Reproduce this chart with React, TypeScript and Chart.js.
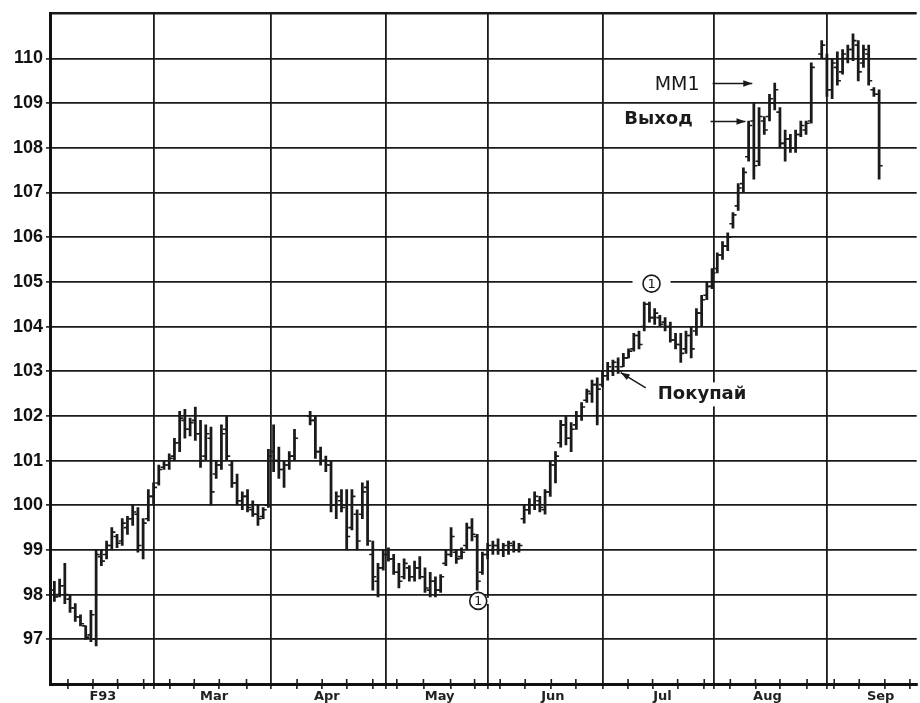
import React, { useEffect, useRef } from "react";
import { Chart, registerables } from "chart.js";

Chart.register(...registerables);

// Daily bars, Feb 1993 -> Sep 1993 (index = trading day)
const highs: (number | null)[] = [
  // Feb
  98.3, 98.35, 98.7, 98.0, 97.8, 97.55, 97.3, 97.65, 99.0, 99.0, 99.2, 99.5, 99.35, 99.7, 99.75, 100.0, 99.95, 99.7, 100.35,
  // Mar
  100.5, 100.9, 101.0, 101.15, 101.5, 102.1, 102.15, 101.95, 102.2, 101.9, 101.8, 101.75, 101.0, 101.8, 102.0, 101.0, 100.7, 100.3, 100.35, 100.1, 100.0, 99.95, 101.25,
  // Apr
  101.8, 101.3, 101.0, 101.2, 101.7, null, null, 102.1, 102.0, 101.3, 101.1, 101.0, 100.3, 100.35, 100.35, 100.35, 99.9, 100.5, 100.55, 99.2, 98.7,
  // May
  99.0, 99.05, 98.9, 98.7, 98.8, 98.65, 98.75, 98.85, 98.6, 98.5, 98.4, 98.45, 99.0, 99.5, 99.0, 99.05, 99.6, 99.7, 99.35, 98.95,
  // Jun
  99.15, 99.2, 99.25, 99.15, 99.2, 99.2, 99.15, 100.0, 100.15, 100.3, 100.2, 100.35, 101.0, 101.2, 101.9, 102.0, 101.85, 102.1, 102.3, 102.6, 102.8, 102.85,
  // Jul
  103.0, 103.2, 103.25, 103.3, 103.4, 103.5, 103.85, 103.9, 104.55, 104.55, 104.4, 104.25, 104.2, 104.1, 103.85, 103.85, 103.9, 104.0, 104.4, 104.7, 105.0,
  // Aug
  105.3, 105.65, 105.9, 106.1, 106.55, 107.2, 107.55, 108.6, 109.0, 108.9, 108.7, 109.2, 109.45, 108.9, 108.4, 108.3, 108.4, 108.6, 108.6, 109.9, null, 110.4,
  // Sep
  110.1, 110.0, 110.15, 110.2, 110.3, 110.55, 110.4, 110.3, 110.3, 109.35, 109.3,
];

const lows: (number | null)[] = [
  97.85, 97.95, 97.8, 97.6, 97.4, 97.3, 97.0, 96.95, 96.85, 98.65, 98.8, 99.0, 99.05, 99.1, 99.35, 99.55, 98.95, 98.8, 99.65,
  100.0, 100.45, 100.8, 100.8, 101.0, 101.2, 101.5, 101.55, 101.45, 100.85, 101.0, 100.0, 100.6, 100.8, 101.0, 100.4, 100.0, 99.9, 99.85, 99.75, 99.55, 99.7, 99.95,
  100.75, 100.6, 100.4, 100.8, 101.0, null, null, 101.8, 101.05, 100.9, 100.75, 99.85, 99.7, 99.85, 99.0, 99.45, 99.0, 99.7, 99.1, 98.1, 97.95,
  98.55, 98.75, 98.45, 98.15, 98.35, 98.3, 98.3, 98.35, 98.05, 97.95, 97.95, 98.05, 98.65, 98.85, 98.7, 98.8, 99.0, 99.2, 98.1, 98.45,
  98.8, 98.9, 98.9, 98.85, 98.9, 98.95, 98.95, 99.6, 99.8, 99.9, 99.85, 99.8, 100.2, 100.5, 101.3, 101.35, 101.2, 101.7, 101.9, 102.3, 102.3, 101.8,
  102.65, 102.8, 102.9, 102.95, 103.1, 103.3, 103.45, 103.5, 103.9, 104.1, 104.05, 104.0, 103.9, 103.65, 103.5, 103.2, 103.4, 103.3, 103.8, 104.0, 104.6,
  104.85, 105.2, 105.5, 105.7, 106.2, 106.6, 107.0, 107.7, 107.3, 107.6, 108.3, 108.6, 108.85, 108.0, 107.7, 107.9, 107.9, 108.25, 108.3, 108.55, null, 110.0,
  109.15, 109.1, 109.4, 109.65, 109.9, 109.95, 109.5, 109.8, 109.4, 109.15, 107.3,
];

const opens: (number | null)[] = [
  98.1, 98.0, 98.2, 97.9, 97.7, 97.5, 97.3, 97.1, 97.0, 98.85, 98.9, 99.1, 99.3, 99.2, 99.5, 99.7, 99.8, 99.0, 99.7,
  100.2, 100.5, 100.85, 100.9, 101.1, 101.4, 101.9, 101.7, 101.9, 101.6, 101.1, 101.5, 100.7, 100.9, 101.7, 100.9, 100.5, 100.1, 100.2, 99.9, 99.8, 99.75, 100.0,
  101.2, 101.0, 100.8, 100.9, 101.1, null, null, 102.0, 101.9, 101.2, 101.0, 100.9, 100.0, 100.1, 100.0, 99.5, 99.8, 99.8, 100.4, 98.9, 98.3,
  98.6, 98.9, 98.8, 98.5, 98.4, 98.6, 98.4, 98.6, 98.4, 98.1, 98.3, 98.1, 98.7, 98.9, 98.95, 98.85, 99.1, 99.5, 99.3, 98.5,
  98.9, 99.0, 99.1, 99.0, 99.0, 99.1, 99.0, 99.7, 99.9, 100.0, 100.1, 99.9, 100.3, 100.9, 101.4, 101.8, 101.5, 101.8, 102.0, 102.35, 102.5, 102.7,
  102.7, 102.9, 103.0, 103.1, 103.1, 103.3, 103.5, 103.8, 104.0, 104.5, 104.2, 104.2, 104.1, 104.0, 103.7, 103.6, 103.5, 103.8, 103.9, 104.3, 104.7,
  104.9, 105.3, 105.6, 105.8, 106.3, 106.7, 107.2, 107.8, 108.6, 107.7, 108.6, 108.7, 109.0, 108.8, 108.1, 108.2, 108.0, 108.3, 108.4, 108.6, null, 110.1,
  110.0, 109.3, 109.8, 109.7, 110.0, 110.2, 110.3, 109.9, 110.1, 109.3, 109.2,
];

const closes: (number | null)[] = [
  97.95, 98.2, 98.0, 97.7, 97.5, 97.35, 97.05, 97.55, 98.9, 98.75, 99.1, 99.4, 99.15, 99.6, 99.7, 99.85, 99.1, 99.6, 100.2,
  100.4, 100.8, 100.9, 101.05, 101.4, 101.95, 101.7, 101.85, 101.6, 101.0, 101.6, 100.3, 100.9, 101.6, 101.1, 100.5, 100.1, 100.2, 99.95, 99.8, 99.7, 99.9, 101.1,
  101.0, 100.8, 100.9, 101.1, 101.5, null, null, 101.9, 101.2, 101.0, 100.9, 100.0, 100.2, 99.95, 99.3, 100.2, 99.2, 100.3, 99.2, 98.4, 98.6,
  98.9, 98.8, 98.5, 98.3, 98.7, 98.4, 98.6, 98.4, 98.15, 98.3, 98.1, 98.4, 98.9, 99.3, 98.8, 98.95, 99.5, 99.35, 98.3, 98.9,
  99.1, 99.1, 99.0, 99.1, 99.15, 99.0, 99.1, 99.9, 100.0, 100.2, 99.95, 100.3, 100.9, 101.1, 101.8, 101.5, 101.7, 102.0, 102.2, 102.55, 102.7, 102.6,
  102.9, 103.1, 103.2, 103.0, 103.3, 103.45, 103.8, 103.6, 104.5, 104.2, 104.3, 104.05, 104.0, 103.7, 103.6, 103.4, 103.8, 103.5, 104.3, 104.6, 104.9,
  105.2, 105.6, 105.8, 106.0, 106.5, 107.1, 107.45, 108.5, 107.6, 108.7, 108.4, 109.1, 109.3, 108.1, 108.2, 108.0, 108.3, 108.5, 108.55, 109.8, null, 110.3,
  109.3, 109.9, 109.5, 110.1, 110.2, 110.4, 109.7, 110.2, 109.5, 109.2, 107.6,
];

// Axis layout (in trading-day units)
const X_MIN = -0.84;
const X_MAX = 165.2;
const monthLines = [19.0, 41.5, 63.5, 83.1, 105.1, 126.4, 148.0];
const monthLabelPos = [9.3, 30.6, 52.2, 73.8, 95.5, 116.5, 136.6, 158.3];
const monthLabels = ["F93", "Mar", "Apr", "May", "Jun", "Jul", "Aug", "Sep"];
const weekTicks = [
  2.6, 7.4, 12.1, 17.1, 22.1, 26.8, 31.6, 36.8, 46.5, 51.3, 56.0, 61.0, 65.6, 70.7, 75.9, 80.5,
  85.4, 90.2, 95.2, 99.9, 109.9, 114.6, 119.4, 124.5, 129.5, 134.3, 139.0, 144.2, 149.4, 154.2, 159.1, 163.9,
];
const Y_MIN = 96;
const Y_MAX = 111;

// Annotations (data coordinates: [day, price])
const circleMarks: [number, number][] = [
  [81.2, 97.86],
  [114.4, 104.96],
];
const mm1Text: [number, number] = [123.6, 109.29];
const mm1Arrow: [number, number, number] = [126.1, 133.7, 109.44];
const exitText: [number, number] = [122.3, 108.53];
const exitArrow: [number, number, number] = [125.7, 132.4, 108.59];
const buyText: [number, number] = [115.6, 102.37];
const buyPointer: [number, number, number, number] = [113.3, 102.63, 108.5, 102.97];

const INK = "#1a1a1a";
const near = (arr: number[], v: number) => arr.some((a) => Math.abs(a - v) < 1e-6);

const barData: { x: number; y: [number, number] }[] = [];
const openData: { x: number; y: number }[] = [];
const closeData: { x: number; y: number }[] = [];
highs.forEach((h, i) => {
  const l = lows[i];
  if (h == null || l == null) return;
  barData.push({ x: i, y: [l, h] });
  const o = opens[i];
  const c = closes[i];
  if (o != null) openData.push({ x: i - 0.36, y: o });
  if (c != null) closeData.push({ x: i + 0.36, y: c });
});

const xTickValues = [...monthLines, ...monthLabelPos, ...weekTicks].sort((a, b) => a - b);

function arrow(ctx: CanvasRenderingContext2D, x1: number, y1: number, x2: number, y2: number, head: boolean) {
  ctx.beginPath();
  ctx.moveTo(x1, y1);
  ctx.lineTo(x2, y2);
  ctx.stroke();
  if (head) {
    const ang = Math.atan2(y2 - y1, x2 - x1);
    const len = 9;
    const w = 3.2;
    ctx.beginPath();
    ctx.moveTo(x2, y2);
    ctx.lineTo(x2 - len * Math.cos(ang) + w * Math.sin(ang), y2 - len * Math.sin(ang) - w * Math.cos(ang));
    ctx.lineTo(x2 - len * Math.cos(ang) - w * Math.sin(ang), y2 - len * Math.sin(ang) + w * Math.cos(ang));
    ctx.closePath();
    ctx.fill();
  }
}

const notesPlugin = {
  id: "notes",
  afterDatasetsDraw(chart: any) {
    const ctx: CanvasRenderingContext2D = chart.ctx;
    const xs = chart.scales.x;
    const ys = chart.scales.y;
    const px = (v: number) => xs.getPixelForValue(v);
    const py = (v: number) => ys.getPixelForValue(v);
    ctx.save();
    ctx.strokeStyle = INK;
    ctx.fillStyle = INK;
    ctx.lineWidth = 1.5;

    // weekly tick marks crossing the bottom axis (upper half)
    const bottom = chart.chartArea.bottom;
    ctx.lineWidth = 1.6;
    weekTicks.forEach((v) => {
      const x = px(v);
      ctx.beginPath();
      ctx.moveTo(x, bottom - 5);
      ctx.lineTo(x, bottom);
      ctx.stroke();
    });

    // circled "1" markers
    circleMarks.forEach(([i, p]) => {
      const cx = px(i);
      const cy = py(p);
      ctx.fillStyle = "#fff";
      ctx.fillRect(cx - 19, cy - 3, 38, 6);
      ctx.beginPath();
      ctx.arc(cx, cy, 8.5, 0, Math.PI * 2);
      ctx.fill();
      ctx.strokeStyle = INK;
      ctx.lineWidth = 1.6;
      ctx.stroke();
      ctx.fillStyle = INK;
      ctx.font = '13px "DejaVu Sans"';
      ctx.textAlign = "center";
      ctx.textBaseline = "middle";
      ctx.fillText("1", cx, cy + 0.5);
    });

    ctx.textBaseline = "alphabetic";
    // MM1
    ctx.font = '19px "DejaVu Sans"';
    ctx.textAlign = "right";
    ctx.fillText("MM1", px(mm1Text[0]), py(mm1Text[1]));
    ctx.lineWidth = 1.6;
    arrow(ctx, px(mm1Arrow[0]), py(mm1Arrow[2]), px(mm1Arrow[1]), py(mm1Arrow[2]), true);

    // Выход
    ctx.font = 'bold 18px "DejaVu Sans"';
    ctx.textAlign = "right";
    ctx.fillText("Выход", px(exitText[0]), py(exitText[1]));
    arrow(ctx, px(exitArrow[0]), py(exitArrow[2]), px(exitArrow[1]), py(exitArrow[2]), true);

    // Покупай
    ctx.font = 'bold 18px "DejaVu Sans"';
    ctx.textAlign = "left";
    const bx = px(buyText[0]);
    const by = py(buyText[1]);
    const w = ctx.measureText("Покупай").width;
    ctx.fillStyle = "#fff";
    ctx.fillRect(bx - 3, by - 17, w + 6, 24);
    ctx.fillStyle = INK;
    ctx.fillText("Покупай", bx, by);
    ctx.lineWidth = 1.5;
    arrow(ctx, px(buyPointer[0]), py(buyPointer[1]), px(buyPointer[2]), py(buyPointer[3]), true);

    ctx.restore();
  },
};

export default function App() {
  const ref = useRef<HTMLCanvasElement>(null);
  useEffect(() => {
    document.body.style.margin = "0";
    const canvas = ref.current;
    if (!canvas) return;
    const chart = new Chart(canvas, {
      type: "bar",
      data: {
        datasets: [
          {
            type: "bar",
            data: barData as any,
            backgroundColor: INK,
            borderWidth: 0,
            barThickness: 2.1,
            grouped: false,
          } as any,
          {
            type: "scatter",
            data: openData,
            pointStyle: "line",
            radius: 1.7,
            hoverRadius: 1.7,
            borderColor: INK,
            borderWidth: 1.6,
            showLine: false,
          } as any,
          {
            type: "scatter",
            data: closeData,
            pointStyle: "line",
            radius: 1.7,
            hoverRadius: 1.7,
            borderColor: INK,
            borderWidth: 1.6,
            showLine: false,
          } as any,
        ],
      },
      options: {
        responsive: false,
        animation: false,
        devicePixelRatio: 1,
        events: [],
        layout: { padding: { top: 13, left: 0, right: 0, bottom: 0 } },
        plugins: { legend: { display: false }, tooltip: { enabled: false } },
        scales: {
          x: {
            type: "linear",
            min: X_MIN,
            max: X_MAX,
            offset: false,
            bounds: "data",
            afterBuildTicks: (s: any) => {
              s.ticks = xTickValues.map((v) => ({ value: v }));
            },
            afterFit: (s: any) => {
              s.height = 19;
            },
            grid: {
              offset: false,
              color: (c: any) => (c.tick && near(monthLines, c.tick.value) ? INK : "rgba(0,0,0,0)"),
              lineWidth: 1.8,
              tickColor: (c: any) => (c.tick && near(monthLabelPos, c.tick.value) ? "rgba(0,0,0,0)" : INK),
              tickLength: 5,
              tickWidth: 1.6,
            },
            border: { display: true, color: "#111", width: 3 },
            ticks: {
              autoSkip: false,
              maxRotation: 0,
              minRotation: 0,
              padding: 0,
              color: "#222",
              font: { family: '"DejaVu Sans"', size: 13, weight: "bold" },
              callback: (v: any) => {
                const k = monthLabelPos.findIndex((a) => Math.abs(a - Number(v)) < 1e-6);
                return k >= 0 ? monthLabels[k] : "";
              },
            },
          } as any,
          y: {
            type: "linear",
            min: Y_MIN,
            max: Y_MAX,
            beginAtZero: false,
            afterFit: (s: any) => {
              s.width = 50;
            },
            grid: {
              color: INK,
              lineWidth: (c: any) => (c.tick && c.tick.value === Y_MAX ? 2.6 : 1.8),
              tickColor: (c: any) => (c.tick && c.tick.value > Y_MIN && c.tick.value < Y_MAX ? INK : "rgba(0,0,0,0)"),
              tickLength: 4,
              tickWidth: 1.6,
            },
            border: { display: true, color: "#111", width: 3 },
            ticks: {
              stepSize: 1,
              padding: 3,
              color: "#111",
              font: { family: '"Liberation Sans", Arial', size: 18, weight: "bold" },
              callback: (v: any) => (Number(v) > Y_MIN && Number(v) < Y_MAX ? String(v) : ""),
            },
          } as any,
        },
      },
      plugins: [notesPlugin],
    });
    return () => chart.destroy();
  }, []);
  return <canvas ref={ref} width={920} height={703} style={{ display: "block" }} />;
}
